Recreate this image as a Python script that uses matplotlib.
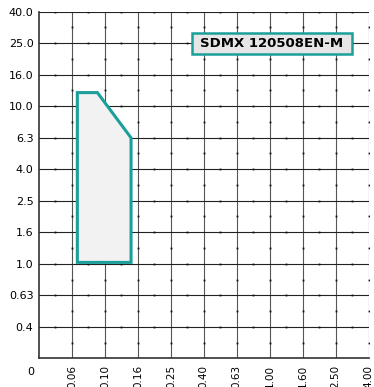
import numpy as np
import matplotlib
matplotlib.use('Agg')
import matplotlib.pyplot as plt
from matplotlib.patches import Rectangle

# axis tick values (log series, 10**0.2 steps) and their printed labels
x_ticks = 10 ** (np.arange(-6, 4) / 5)
x_labels = ['0.06', '0.10', '0.16', '0.25', '0.40', '0.63', '1.00', '1.60', '2.50', '4.00']
y_ticks = 10 ** (np.arange(-2, 9) / 5)
y_labels = ['0.4', '0.63', '1.0', '1.6', '2.5', '4.0', '6.3', '10.0', '16.0', '25.0', '40.0']

# envelope of the operating range
env_x = [0.068, 0.068, 0.090, 0.144, 0.144]
env_y = [1.02, 12.2, 12.2, 6.3, 1.02]

model_name = 'SDMX 120508EN-M'

teal = '#1a9f9b'
plt.rcParams['font.family'] = ['DejaVu Sans']

fig = plt.figure(figsize=(3.74, 3.87), dpi=100)
ax = fig.add_axes((0.1043, 0.0742, 0.8815, 0.8956))
ax.set_xscale('log')
ax.set_yscale('log')
x0 = 10 ** (-7 / 5)
y0 = 10 ** (-3 / 5)
ax.set_xlim(x0, x_ticks[-1])
ax.set_ylim(y0, y_ticks[-1])

ax.set_xticks(x_ticks)
ax.set_xticklabels(x_labels, rotation=90, fontsize=7.5)
ax.set_yticks(y_ticks)
ax.set_yticklabels(y_labels, fontsize=8)
ax.minorticks_off()
ax.tick_params(length=0, pad=4)
ax.tick_params(axis='x', pad=5)

# grid lines with small dots half-way between them
for xv in x_ticks:
    ax.axvline(xv, color='#555555', lw=0.8, zorder=1)
for yv in y_ticks:
    ax.axhline(yv, color='#222222', lw=0.8, zorder=1)
x_half = 10 ** ((np.arange(-7, 3) + 0.5) / 5)
y_half = 10 ** ((np.arange(-3, 8) + 0.5) / 5)
gx, gy = np.meshgrid(x_ticks, y_half)
ax.plot(gx.ravel(), gy.ravel(), ls='none', marker='s', ms=1.3, color='#111111', mew=0, zorder=1)
gx, gy = np.meshgrid(x_half, y_ticks)
ax.plot(gx.ravel(), gy.ravel(), ls='none', marker='s', ms=1.3, color='#111111', mew=0, zorder=1)

for s in ['left', 'bottom']:
    ax.spines[s].set_color('#333333')
    ax.spines[s].set_linewidth(1.2)
for s in ['top', 'right']:
    ax.spines[s].set_visible(False)

ax.fill(env_x, env_y, facecolor='#f2f2f2', edgecolor=teal, lw=2.2, zorder=3, joinstyle='miter')

# model label box
ax.add_patch(Rectangle((0.464, 0.878), 0.485, 0.06, transform=ax.transAxes,
                       facecolor='#e6e6e6', edgecolor=teal, lw=1.8, zorder=5))
ax.text(0.7065, 0.908, model_name, transform=ax.transAxes, ha='center', va='center',
        fontsize=9.5, fontweight='bold', zorder=6)

# origin label
ax.text(-0.024, -0.04, '0', transform=ax.transAxes, ha='center', va='center', fontsize=8)

fig.savefig('out.png', dpi=100)
